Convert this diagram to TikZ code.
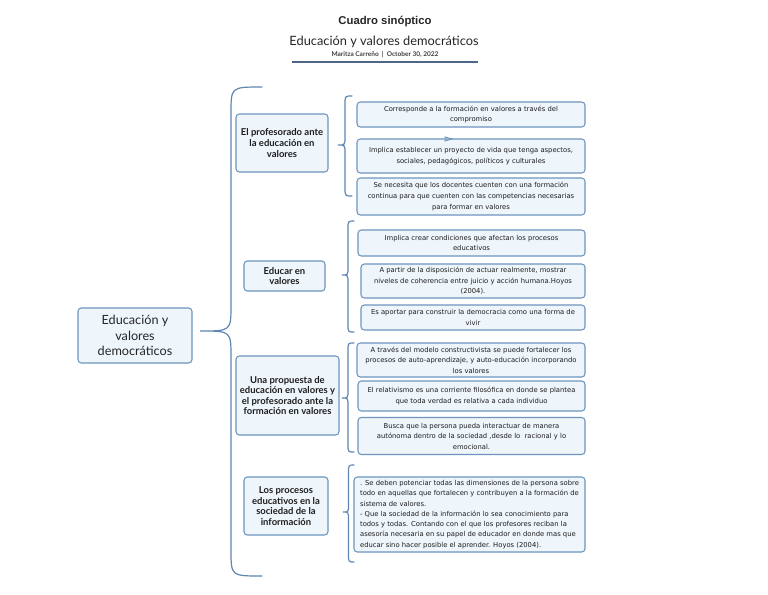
\documentclass[tikz,border=0pt]{standalone}
\usepackage{fontspec}
\setmainfont{DejaVu Sans}
\newfontfamily\latofont{Lato}
\newfontfamily\titlefont{Liberation Sans}
\usetikzlibrary{calc}
\definecolor{boxblue}{HTML}{6E95BE}
\definecolor{boxfill}{HTML}{EEF5FB}
\definecolor{braceblue}{HTML}{5F87B2}
\definecolor{textgray}{HTML}{1E1E1E}
\definecolor{ruleblue}{HTML}{4E6788}
\tikzset{
  brace line/.style={draw=braceblue, line width=0.9pt, line cap=round},
  box/.style={draw=boxblue, fill=boxfill, rounded corners=2.5pt,
    line width=0.8pt, inner sep=1pt, align=center, text=textgray},
  sz/.style 2 args={minimum width=#1*0.75pt, minimum height=#2*0.75pt},
  topic/.style={box, font=\latofont\bfseries\fontsize{7.1}{7.9}\selectfont},
  detail/.style={box, font=\fontsize{5.1}{7.9}\selectfont},
}
% tip x, tip y, arm width, top y, bottom y, bend
\newcommand{\curlybrace}[6]{%
  \draw[brace line] ({#1+2*#3},#4) .. controls ({#1+#3},#4) .. ({#1+#3},{#4+#6})
    -- ({#1+#3},{#2-#6}) .. controls ({#1+#3},#2) .. (#1,#2)
    .. controls ({#1+#3},#2) .. ({#1+#3},{#2+#6})
    -- ({#1+#3},{#5-#6}) .. controls ({#1+#3},#5) .. ({#1+2*#3},#5);}
\begin{document}
\begin{tikzpicture}[x=0.75pt, y=-0.75pt]
\useasboundingbox (0,0) rectangle (768,594);
\fill[white] (0,0) rectangle (768,594);

% title block
\node[font=\titlefont\bfseries\fontsize{8.5}{10}\selectfont, text=black!85] (title) at (385,22) {Cuadro sinóptico};
\node[font=\latofont\fontsize{9.6}{11}\selectfont, text=black!85] (subtitle) at (384,42) {Educación y valores democráticos};
\node[font=\latofont\bfseries\fontsize{4.9}{5.5}\selectfont, text=black!75] (author) at (385,55) {Maritza Carreño \ | \ October 30, 2022};
\coordinate (ruleL) at (292,62);
\coordinate (ruleR) at (478,62);
\draw[ruleblue, line width=0.9pt] (ruleL) -- (ruleR);

% root
\node[box, sz={114}{55}, font=\latofont\fontsize{9.5}{11.6}\selectfont, text=black!85] (root) at (135,335.5) {Educación y\\valores\\democráticos};
\curlybrace{200}{331}{31}{87}{576}{26}

% topics
\node[topic, sz={92}{58}] (prof) at (282,143) {El profesorado ante\\la educación en\\valores};
\node[topic, sz={81}{30}] (educ) at (284.5,276) {Educar en\\valores};
\node[topic, sz={103}{79}] (prop) at (287.5,395.5) {Una propuesta de\\educación en valores y\\el profesorado ante la\\formación en valores};
\node[topic, sz={84}{58}] (proc) at (286,506) {Los procesos\\educativos en la\\sociedad de la\\información};

% first group
\curlybrace{338}{145}{7}{96}{196}{8}
\node[detail, sz={228}{25}] (prof1) at (471,114.5) {Corresponde a la formación en valores a través del\\compromiso};
\node[detail, sz={228}{34}] (prof2) at (471,156) {Implica establecer un proyecto de vida que tenga aspectos,\\sociales, pedagógicos, políticos y culturales};
\node[detail, sz={228}{37}] (prof3) at (471,196.5) {Se necesita que los docentes cuenten con una formación\\continua para que cuenten con las competencias necesarias\\para formar en valores};
\draw[draw=boxblue, line width=0.7pt] (445,137) -- (452,139) -- (445,141) -- cycle;

% second group
\curlybrace{342}{275}{6}{221}{332}{8}
\node[detail, sz={227}{26}] (educ1) at (471.5,243) {Implica crear condiciones que afectan los procesos\\educativos};
\node[detail, sz={224}{34}] (educ2) at (473,281) {A partir de la disposición de actuar realmente, mostrar\\niveles de coherencia entre juicio y acción humana.Hoyos\\(2004).};
\node[detail, sz={224}{25}] (educ3) at (473,317.5) {Es aportar para construir la democracia como una forma de\\vivir};

% third group
\curlybrace{342}{398}{6}{343}{452}{8}
\node[detail, sz={228}{34}] (prop1) at (471,360) {A través del modelo constructivista se puede fortalecer los\\procesos de auto-aprendizaje, y auto-educación incorporando\\los valores};
\node[detail, sz={227}{30}] (prop2) at (471.5,396) {El relativismo es una corriente filosófica en donde se plantea\\que toda verdad es relativa a cada individuo};
\node[detail, sz={227}{37}] (prop3) at (471.5,436) {Busca que la persona pueda interactuar de manera\\autónoma dentro de la sociedad ,desde lo \ racional y lo\\emocional.};

% fourth group
\curlybrace{343}{512}{5.5}{465}{562}{8}
\node[detail, sz={231}{75}, align=left, font=\fontsize{5.1}{7.7}\selectfont] (proc1) at (469.5,514.5) {. Se deben potenciar todas las dimensiones de la persona sobre\\todo en aquellas que fortalecen y contribuyen a la formación de\\sistema de valores.\\- Que la sociedad de la información lo sea conocimiento para\\todos y todas. Contando con el que los profesores reciban la\\asesoría necesaria en su papel de educador en donde mas que\\educar sino hacer posible el aprender. Hoyos (2004).};
\end{tikzpicture}
\end{document}
